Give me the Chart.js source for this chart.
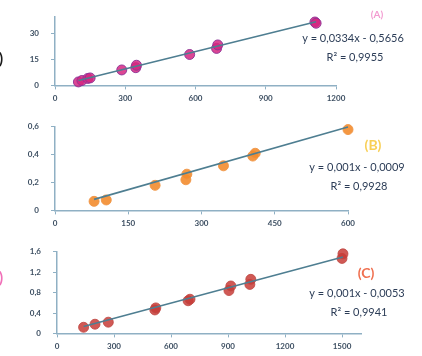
<!DOCTYPE html>
<html>
<head>
<meta charset="utf-8">
<script src="https://cdn.jsdelivr.net/npm/chart.js@4/dist/chart.umd.min.js"></script>
<style>
  body { margin: 0; background: #fff; }
  #wrap { position: relative; width: 422px; height: 356px; overflow: hidden; }
  canvas { position: absolute; left: 0; }
</style>
</head>
<body>
<div id="wrap">
  <canvas id="chartA" style="top:0px"></canvas>
  <canvas id="chartB" style="top:110px"></canvas>
  <canvas id="chartC" style="top:235px"></canvas>
</div>
<script>
// (A) concentration vs response, replicate points
const xA = [100, 115, 140, 150, 285, 345, 348, 575, 690, 695, 1110, 1115];
const yA = [2.0, 2.8, 4.0, 4.3, 8.9, 10.2, 11.6, 17.8, 21.3, 23.3, 36.5, 35.8];
// (B)
const xB = [80, 105, 205, 268, 270, 345, 405, 410, 600];
const yB = [0.065, 0.075, 0.18, 0.22, 0.26, 0.32, 0.39, 0.41, 0.58];
// (C)
const xC = [140, 200, 270, 515, 520, 690, 700, 905, 915, 1015, 1020, 1500, 1505];
const yC = [0.12, 0.18, 0.22, 0.46, 0.50, 0.64, 0.67, 0.84, 0.93, 0.96, 1.06, 1.47, 1.56];

// linear fits as printed on the panels
const fitA = { slope: 0.0334, intercept: -0.5656, r2: '0,9955' };
const fitB = { slope: 0.001, intercept: -0.0009, r2: '0,9928' };
const fitC = { slope: 0.001, intercept: -0.0053, r2: '0,9941' };

// tick steps for each panel
const xStepA = 300, yStepA = 15;
const xStepB = 150, yStepB = 0.2;
const xStepC = 300, yStepC = 0.4;

const axisColor = '#8fb0c4';
const tickText = '#3d4f62';
const lineColor = '#4e7e91';

function fmt(v) {
  return String(Math.round(v * 100) / 100).replace('.', ',');
}
function fmtCoef(v) {
  return Math.abs(v).toFixed(4).replace(/0+$/, '').replace('.', ',');
}

function makeChart(id, h, o) {
  const pts = o.xs.map((x, i) => ({ x: x, y: o.ys[i] }));
  const xmin = Math.min(...o.xs), xmax = Math.max(...o.xs);
  const trend = [xmin, xmax].map(x => ({ x: x, y: o.fit.slope * x + o.fit.intercept }));

  const labels = {
    id: 'labels',
    afterDraw(chart) {
      const c = chart.ctx;
      c.save();
      c.textAlign = 'center';
      c.textBaseline = 'middle';
      c.fillStyle = o.tagColor;
      c.font = o.tagFont;
      c.fillText(o.tag, o.tagPos[0], o.tagPos[1]);
      c.fillStyle = '#2c3d57';
      c.font = '11px Lato';
      const sign = o.fit.intercept < 0 ? ' - ' : ' + ';
      c.fillText('y = ' + fmtCoef(o.fit.slope) + 'x' + sign + fmtCoef(o.fit.intercept), o.eqPos[0], o.eqPos[1]);
      c.fillText('R² = ' + o.fit.r2, o.eqPos[0] + 2, o.eqPos[1] + 19);
      // edge of the neighbouring panel label
      if (o.edgeMark) {
        c.textAlign = 'right';
        c.fillStyle = o.edgeMark.color;
        c.font = 'bold 15px Lato';
        c.fillText(o.edgeMark.text, 3, o.edgeMark.y);
      }
      c.restore();
    }
  };

  const cv = document.getElementById(id);
  cv.width = 422;
  cv.height = h;
  return new Chart(cv, {
    type: 'scatter',
    data: {
      datasets: [
        {
          data: trend,
          showLine: true,
          borderColor: lineColor,
          borderWidth: 1.6,
          pointRadius: 0,
          clip: false,
          order: 0
        },
        {
          data: pts,
          backgroundColor: o.fill,
          borderColor: o.edge,
          borderWidth: 1,
          pointRadius: 5,
          clip: false,
          order: 1
        }
      ]
    },
    options: {
      responsive: false,
      animation: false,
      layout: { padding: { top: o.top, right: o.right, left: 0, bottom: o.bottom } },
      plugins: { legend: { display: false }, tooltip: { enabled: false } },
      scales: {
        x: {
          type: 'linear',
          min: 0,
          max: o.xmax,
          border: { color: axisColor, width: 1.5 },
          grid: { display: true, drawOnChartArea: false, color: axisColor, tickLength: 4 },
          ticks: {
            stepSize: o.xStep,
            includeBounds: false,
            autoSkip: false,
            maxRotation: 0,
            color: tickText,
            font: { family: 'Lato', size: 8, weight: 'bold' },
            padding: 4,
            callback: v => String(v)
          }
        },
        y: {
          min: 0,
          max: o.ymax,
          afterFit: s => { s.width = o.left; },
          border: { color: axisColor, width: 1.5 },
          grid: { display: true, drawOnChartArea: false, color: axisColor, tickLength: 4 },
          ticks: {
            stepSize: o.yStep,
            includeBounds: false,
            color: tickText,
            font: { family: 'Lato', size: 8, weight: 'bold' },
            padding: 12,
            callback: v => fmt(v)
          }
        }
      }
    },
    plugins: [labels]
  });
}

makeChart('chartA', 110, {
  xs: xA, ys: yA, fit: fitA, xStep: xStepA, yStep: yStepA,
  xmax: 1200, ymax: 39.5, top: 0, right: 86, left: 55, bottom: 3,
  fill: 'rgba(214,38,128,0.85)', edge: 'rgba(140,50,150,0.9)',
  tag: '(A)', tagColor: '#f39ad0', tagFont: 'bold 10px Lato', tagPos: [377, 15],
  eqPos: [353, 38],
  edgeMark: { text: ')', color: '#1a1a1a', y: 59 }
});

makeChart('chartB', 125, {
  xs: xB, ys: yB, fit: fitB, xStep: xStepB, yStep: yStepB,
  xmax: 600, ymax: 0.6, top: 8, right: 74, left: 55, bottom: 3,
  fill: 'rgba(243,140,45,0.9)', edge: 'rgba(240,150,70,0.9)',
  tag: '(B)', tagColor: '#f8cf55', tagFont: 'bold 14px Lato', tagPos: [373, 35],
  eqPos: [357, 57]
});

makeChart('chartC', 121, {
  xs: xC, ys: yC, fit: fitC, xStep: xStepC, yStep: yStepC,
  xmax: 1600, ymax: 1.6, top: 8, right: 61, left: 57, bottom: 1,
  fill: 'rgba(200,60,55,0.85)', edge: 'rgba(190,70,65,0.8)',
  tag: '(C)', tagColor: '#f07050', tagFont: 'bold 14px Lato', tagPos: [366, 38],
  eqPos: [357, 58],
  edgeMark: { text: ')', color: '#f070b8', y: 43 }
});
</script>
</body>
</html>
